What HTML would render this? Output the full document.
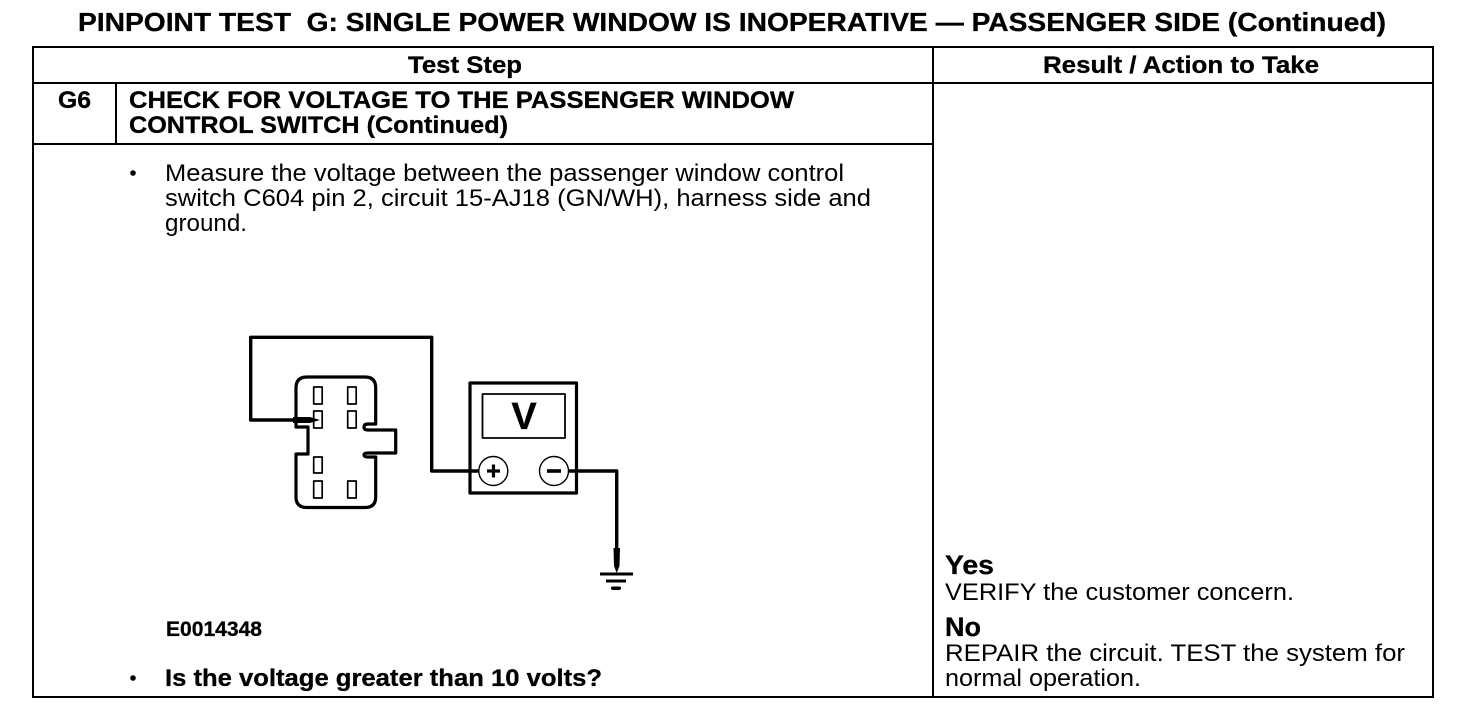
<!DOCTYPE html>
<html><head><meta charset="utf-8">
<style>
html,body{margin:0;padding:0;background:#fff;width:1472px;height:708px;overflow:hidden}
svg{display:block}
text{font-family:"Liberation Sans",Arial,sans-serif;fill:#000;white-space:pre}
.b{font-weight:bold;stroke:#000;stroke-width:.3px}
.h{font-size:24px;font-weight:bold;stroke:#000;stroke-width:.3px}
.r{font-size:24px}
</style></head><body>
<svg width="1472" height="708" viewBox="0 0 1472 708" xmlns="http://www.w3.org/2000/svg">
<text x="78" y="31" class="b" font-size="26" textLength="1308" lengthAdjust="spacingAndGlyphs">PINPOINT TEST  G: SINGLE POWER WINDOW IS INOPERATIVE — PASSENGER SIDE (Continued)</text>
<g stroke="#000" stroke-width="2" fill="none" shape-rendering="crispEdges">
<rect x="33" y="47" width="1400" height="650"/>
<path d="M33 83H1433M933 47V697M116 83V144M33 144H933"/>
</g>
<text x="408" y="73" class="h" textLength="114" lengthAdjust="spacingAndGlyphs">Test Step</text>
<text x="1043" y="73" class="h" textLength="276" lengthAdjust="spacingAndGlyphs">Result / Action to Take</text>
<text x="58" y="108" class="h" textLength="33" lengthAdjust="spacingAndGlyphs">G6</text>
<text x="129" y="108" class="h" textLength="665" lengthAdjust="spacingAndGlyphs">CHECK FOR VOLTAGE TO THE PASSENGER WINDOW</text>
<text x="129" y="133" class="h" textLength="379" lengthAdjust="spacingAndGlyphs">CONTROL SWITCH (Continued)</text>
<circle cx="133" cy="173" r="2.8" fill="#000"/>
<text x="165" y="181" class="r" textLength="679" lengthAdjust="spacingAndGlyphs">Measure the voltage between the passenger window control</text>
<text x="165" y="206" class="r" textLength="706" lengthAdjust="spacingAndGlyphs">switch C604 pin 2, circuit 15-AJ18 (GN/WH), harness side and</text>
<text x="165" y="231" class="r" textLength="82" lengthAdjust="spacingAndGlyphs">ground.</text>

<g fill="none" stroke="#000" stroke-linejoin="round">
<path stroke-width="3.4" d="M296 420H250.7V337.3H431.7V471H480"/>
<path stroke-width="3.2" d="M296 427V388Q296 377 307 377H365Q375.7 377 375.7 388V424H368Q364 424 364 427Q364 430 368 430H395.7V453H368Q364 453 364 455Q364 457 368 457H375.7V497Q375.7 507.5 365 507.5H307Q296 507.5 296 497V454H308V427Z"/>
<g stroke-width="1.700">
<rect x="313.700" y="387" width="8.500" height="17"/>
<rect x="347.700" y="387" width="8.500" height="17"/>
<rect x="313.700" y="411" width="8.500" height="17"/>
<rect x="347.700" y="411" width="8.500" height="17"/>
<rect x="313.700" y="457" width="8.500" height="16"/>
<rect x="313.700" y="481" width="8.500" height="17"/>
<rect x="347.700" y="481" width="8.500" height="17"/>
</g>
<rect x="470" y="383" width="106.500" height="110" stroke-width="3.2"/>
<rect x="482.500" y="394" width="82.500" height="44" stroke-width="1.800"/>
<path stroke-width="3.4" d="M568 471H616.700V552"/>
</g>
<path d="M293 417H310L320 420L310 423H293Z" fill="#000"/>
<path d="M613.500 548H620L619.500 566L616.700 573L614 566Z" fill="#000"/>
<g stroke="#000" stroke-width="3" shape-rendering="crispEdges">
<path d="M600 574H633M606 581H626"/>
</g>
<rect x="611" y="586.500" width="10" height="3.500" rx="1.700" fill="#000"/>
<circle cx="493.300" cy="471" r="14.500" fill="#fff" stroke="#000" stroke-width="1.400"/>
<circle cx="554" cy="471" r="14.500" fill="#fff" stroke="#000" stroke-width="1.400"/>
<path d="M487 471H500M493.500 464.500V477.500" stroke="#000" stroke-width="3.200" fill="none"/>
<path d="M547 471H561" stroke="#000" stroke-width="3.600" fill="none"/>
<text x="524" y="429" class="b" font-size="38" text-anchor="middle">V</text>

<text x="166" y="636" class="b" font-size="21" textLength="96" lengthAdjust="spacingAndGlyphs">E0014348</text>
<circle cx="133" cy="678" r="2.8" fill="#000"/>
<text x="165" y="686" class="h" textLength="437" lengthAdjust="spacingAndGlyphs">Is the voltage greater than 10 volts?</text>

<text x="945" y="574" class="b" font-size="27" textLength="49" lengthAdjust="spacingAndGlyphs">Yes</text>
<text x="945" y="600" class="r" textLength="349" lengthAdjust="spacingAndGlyphs">VERIFY the customer concern.</text>
<text x="945" y="636" class="b" font-size="27" textLength="36" lengthAdjust="spacingAndGlyphs">No</text>
<text x="945" y="661" class="r" textLength="460" lengthAdjust="spacingAndGlyphs">REPAIR the circuit. TEST the system for</text>
<text x="945" y="686" class="r" textLength="196" lengthAdjust="spacingAndGlyphs">normal operation.</text>
</svg>
</body></html>
